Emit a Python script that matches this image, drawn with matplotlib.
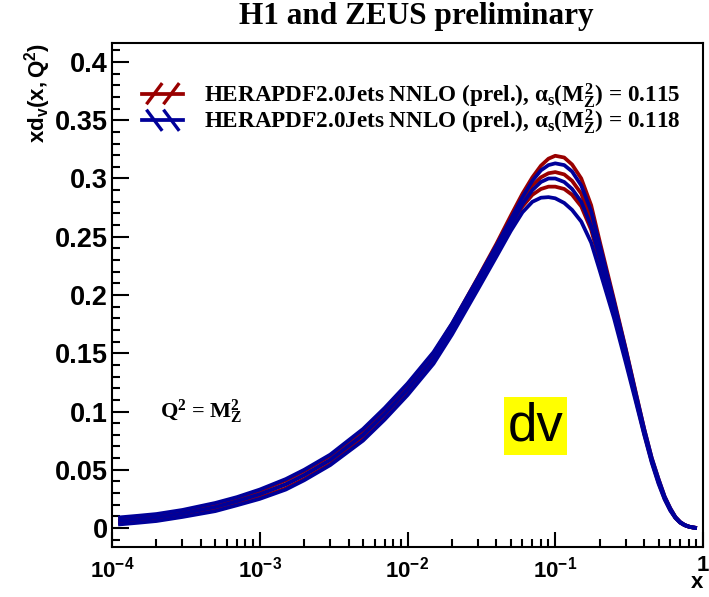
import numpy as np
import matplotlib
matplotlib.use('Agg')
import matplotlib.pyplot as plt
from matplotlib.lines import Line2D
from matplotlib.legend_handler import HandlerBase
from matplotlib.ticker import FixedLocator, MultipleLocator, FixedFormatter

plt.rcParams['mathtext.fontset'] = 'custom'
plt.rcParams['mathtext.rm'] = 'Liberation Serif:bold'
plt.rcParams['mathtext.it'] = 'Liberation Serif:bold'
plt.rcParams['mathtext.bf'] = 'Liberation Serif:bold'
plt.rcParams['mathtext.sf'] = 'Liberation Sans:bold'

# x grid shared by all curves
x = [1.1e-4, 1.5e-4, 2e-4, 3e-4, 5e-4, 7e-4, 1e-3, 1.5e-3, 2e-3, 3e-3, 5e-3, 7e-3,
     1e-2, 1.5e-2, 2e-2, 3e-2,
     0.04, 0.05, 0.06, 0.07, 0.08, 0.09, 0.1, 0.115, 0.13, 0.15, 0.175, 0.2, 0.25,
     0.3, 0.35, 0.4, 0.45, 0.5, 0.55, 0.6, 0.65, 0.7, 0.75, 0.8, 0.85, 0.91]

# alpha_s = 0.115 (red): upper, central, lower
red_hi = [0.0080, 0.0095, 0.0110, 0.0145, 0.0205, 0.0255, 0.0320, 0.0410, 0.0490,
          0.0620, 0.0840, 0.1020, 0.1230, 0.1500, 0.1750, 0.2150,
          0.244, 0.268, 0.287, 0.301, 0.311, 0.317, 0.3195, 0.318, 0.312, 0.300,
          0.277, 0.246, 0.196, 0.154, 0.117, 0.085, 0.060, 0.042, 0.027, 0.017,
          0.0095, 0.0052, 0.0027, 0.0013, 0.0005, 0.0]
red_c = [0.0060, 0.0075, 0.0090, 0.0125, 0.0180, 0.0230, 0.0290, 0.0375, 0.0455,
         0.0585, 0.0805, 0.0985, 0.1195, 0.1470, 0.1725, 0.2125,
         0.241, 0.264, 0.282, 0.294, 0.301, 0.3045, 0.3055, 0.3035, 0.298, 0.287,
         0.265, 0.237, 0.190, 0.149, 0.114, 0.083, 0.058, 0.040, 0.026, 0.016,
         0.009, 0.0048, 0.0025, 0.0012, 0.0005, 0.0]
red_lo = [0.0040, 0.0055, 0.0070, 0.0105, 0.0155, 0.0205, 0.0260, 0.0340, 0.0420,
          0.0550, 0.0770, 0.0950, 0.1160, 0.1440, 0.1700, 0.2100,
          0.238, 0.260, 0.276, 0.286, 0.291, 0.293, 0.293, 0.291, 0.286, 0.276,
          0.256, 0.229, 0.184, 0.145, 0.111, 0.081, 0.057, 0.039, 0.025, 0.0155,
          0.0088, 0.0047, 0.0024, 0.0012, 0.0005, 0.0]

# alpha_s = 0.118 (blue): upper, central, lower
blue_hi = [0.0090, 0.0105, 0.0120, 0.0155, 0.0215, 0.0265, 0.0330, 0.0420, 0.0500,
           0.0630, 0.0850, 0.1030, 0.1240, 0.1510, 0.1755, 0.2145,
           0.2425, 0.265, 0.284, 0.298, 0.307, 0.3115, 0.313, 0.3115, 0.306, 0.294,
           0.272, 0.243, 0.194, 0.153, 0.116, 0.085, 0.060, 0.042, 0.027, 0.017,
           0.0095, 0.0052, 0.0027, 0.0013, 0.0005, 0.0]
blue_c = [0.0060, 0.0075, 0.0090, 0.0125, 0.0180, 0.0230, 0.0290, 0.0375, 0.0455,
          0.0585, 0.0800, 0.0980, 0.1190, 0.1460, 0.1710, 0.2100,
          0.238, 0.260, 0.278, 0.290, 0.297, 0.300, 0.300, 0.297, 0.291, 0.280,
          0.259, 0.232, 0.187, 0.147, 0.113, 0.082, 0.058, 0.040, 0.026, 0.016,
          0.009, 0.0048, 0.0025, 0.0012, 0.0005, 0.0]
blue_lo = [0.0030, 0.0045, 0.0060, 0.0095, 0.0145, 0.0195, 0.0250, 0.0330, 0.0410,
           0.0540, 0.0750, 0.0930, 0.1140, 0.1410, 0.1660, 0.2050,
           0.233, 0.255, 0.271, 0.280, 0.2835, 0.284, 0.283, 0.279, 0.273, 0.263,
           0.245, 0.221, 0.180, 0.142, 0.109, 0.080, 0.056, 0.038, 0.0245, 0.015,
           0.0086, 0.0046, 0.0024, 0.0012, 0.0005, 0.0]

x_ticks = [1e-4, 1e-3, 1e-2, 1e-1, 1]
x_ticklabels = [r'$\mathsf{10^{-4}}$', r'$\mathsf{10^{-3}}$', r'$\mathsf{10^{-2}}$',
                r'$\mathsf{10^{-1}}$', r'$\mathsf{1}$']
y_ticks = [0, 0.05, 0.1, 0.15, 0.2, 0.25, 0.3, 0.35, 0.4]
y_ticklabels = ['0', '0.05', '0.1', '0.15', '0.2', '0.25', '0.3', '0.35', '0.4']

labels = [r'HERAPDF2.0Jets NNLO (prel.), $\alpha_s(M_Z^2)$ = 0.115',
          r'HERAPDF2.0Jets NNLO (prel.), $\alpha_s(M_Z^2)$ = 0.118']

red = '#990000'
blue = '#000099'


class HatchHandler(HandlerBase):
    # ROOT-like hatched band symbol: two diagonal strokes and a line
    def __init__(self, color, sign):
        super().__init__()
        self.color = color
        self.sign = sign

    def create_artists(self, legend, orig_handle, xdescent, ydescent,
                       width, height, fontsize, trans):
        x0, y0 = -xdescent, -ydescent
        arts = [Line2D([x0, x0 + width], [y0 + height / 2] * 2,
                       color=self.color, lw=2.7, transform=trans)]
        for f in (0.3, 0.72):
            xc = x0 + f * width
            dx = 0.17 * width
            ys = [y0, y0 + height] if self.sign > 0 else [y0 + height, y0]
            arts.append(Line2D([xc - dx, xc + dx], ys, color=self.color,
                               lw=2.4, transform=trans))
        return arts


fig = plt.figure(figsize=(7.09, 5.97), dpi=100)
ax = fig.add_axes([112/709, 50/597, 591/709, 504/597])

for yy in (red_hi, red_c, red_lo):
    ax.plot(x, yy, color=red, lw=2.7, solid_capstyle='butt',
            solid_joinstyle='round', zorder=2)
for yy in (blue_hi, blue_c, blue_lo):
    ax.plot(x, yy, color=blue, lw=2.7, solid_capstyle='butt',
            solid_joinstyle='round', zorder=3)

ax.set_xscale('log')
ax.set_xlim(1e-4, 1)
ax.set_ylim(-0.0163, 0.4163)

ax.xaxis.set_major_locator(FixedLocator(x_ticks))
ax.xaxis.set_major_formatter(FixedFormatter(x_ticklabels))
minors = [m * 10.0**e for e in range(-4, 0) for m in range(2, 10)]
ax.xaxis.set_minor_locator(FixedLocator(minors))
ax.xaxis.set_minor_formatter(plt.NullFormatter())
ax.yaxis.set_major_locator(FixedLocator(y_ticks))
ax.yaxis.set_major_formatter(FixedFormatter(y_ticklabels))
ax.yaxis.set_minor_locator(MultipleLocator(0.01))

ax.tick_params(which='both', direction='in', top=False, right=False, width=1.5)
ax.tick_params(axis='y', which='major', length=12, labelsize=19.5, pad=3)
ax.tick_params(axis='y', which='minor', length=6)
ax.tick_params(axis='x', which='major', length=11, labelsize=16, pad=6)
ax.tick_params(axis='x', which='minor', length=6)
for lab in ax.get_yticklabels():
    lab.set_fontfamily('Liberation Sans')
    lab.set_fontweight('bold')
for s in ax.spines.values():
    s.set_linewidth(1.5)

ax.set_ylabel(r'$\mathsf{xd_v(x,Q^2)}$', loc='top', fontsize=16, labelpad=1)
ax.set_xlabel('x', fontsize=16, fontweight='bold', family='Liberation Sans')
ax.xaxis.set_label_coords(0.99, -0.07)
ax.xaxis.label.set_ha('center')
ax.xaxis.label.set_va('center')

fig.text(0.587, 0.972, 'H1 and ZEUS preliminary', ha='center', va='center',
         family='Liberation Serif', fontweight='bold', fontsize=22.5)

h_red = Line2D([], [], color=red)
h_blue = Line2D([], [], color=blue)
ax.legend([h_red, h_blue], labels,
          handler_map={h_red: HatchHandler(red, 1), h_blue: HatchHandler(blue, -1)},
          loc='upper left', bbox_to_anchor=(0.051, 0.925), frameon=False,
          borderaxespad=0, borderpad=0,
          prop={'family': 'Liberation Serif', 'weight': 'bold', 'size': 16.7},
          handlelength=1.75, handleheight=0.85, handletextpad=0.9, labelspacing=-0.1)

ax.text(0.081, 0.268, r'Q$^2$ = M$_Z^2$', transform=ax.transAxes, ha='left',
        va='center', family='Liberation Serif', fontweight='bold', fontsize=16)
ax.text(0.717, 0.240, 'dv', transform=ax.transAxes, ha='center', va='center',
        family='Liberation Sans', fontsize=38,
        bbox=dict(facecolor='#ffff00', edgecolor='none', pad=2.5))

fig.savefig('out.png', dpi=100)
